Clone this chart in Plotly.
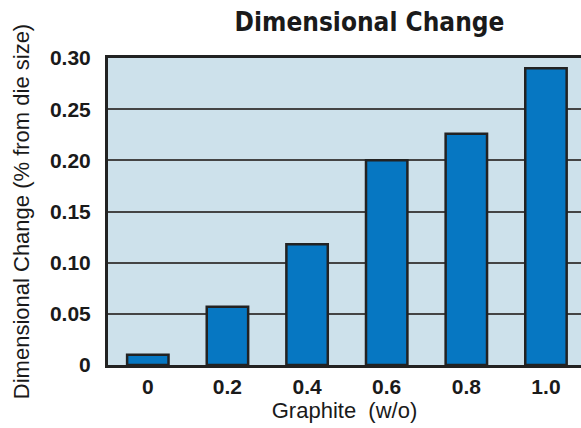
import plotly.graph_objects as go

graphite = ["0", "0.2", "0.4", "0.6", "0.8", "1.0"]
change = [0.01, 0.057, 0.118, 0.200, 0.226, 0.290]
y_ticks = [0, 0.05, 0.10, 0.15, 0.20, 0.25, 0.30]
y_ticktext = ["0", "0.05", "0.10", "0.15", "0.20", "0.25", "0.30"]

positions = list(range(len(graphite)))

fig = go.Figure(
    go.Bar(
        x=positions,
        y=change,
        width=0.52,
        marker=dict(color="#0677c2", line=dict(color="#222222", width=2.5)),
    )
)

fig.update_layout(
    width=581,
    height=428,
    margin=dict(l=108, r=0, t=58, b=63),
    paper_bgcolor="white",
    plot_bgcolor="#cde1eb",
    showlegend=False,
    title=dict(
        text="<b>Dimensional Change</b>",
        x=0.636,
        xanchor="center",
        y=0.948,
        yanchor="middle",
        font=dict(family="DejaVu Sans Condensed", size=26, color="#1a1a1a"),
    ),
)

fig.update_xaxes(
    range=[-0.5, 5.44],
    tickvals=positions,
    ticktext=["<b>%s</b>" % g for g in graphite],
    tickfont=dict(family="Liberation Sans", size=21, color="#1a1a1a"),
    showgrid=False,
    zeroline=False,
    showline=True,
    linecolor="#222222",
    linewidth=2.5,
    mirror=True,
    ticks="",
    ticklabelstandoff=1,
    title=dict(
        text="Graphite  (w/o)",
        font=dict(family="Liberation Sans", size=22, color="#1a1a1a"),
        standoff=2,
    ),
)

fig.update_yaxes(
    range=[0, 0.30],
    tickvals=y_ticks,
    ticktext=["<b>%s</b>" % t for t in y_ticktext],
    tickfont=dict(family="Liberation Sans", size=21, color="#1a1a1a"),
    showgrid=True,
    gridcolor="#444444",
    gridwidth=1.5,
    zeroline=False,
    showline=True,
    linecolor="#222222",
    linewidth=3,
    ticks="",
    ticklabelstandoff=10,
    title=dict(
        text="Dimensional Change (% from die size)",
        font=dict(family="Liberation Sans", size=22, color="#1a1a1a"),
        standoff=15,
    ),
)

fig.write_html("out.html")
